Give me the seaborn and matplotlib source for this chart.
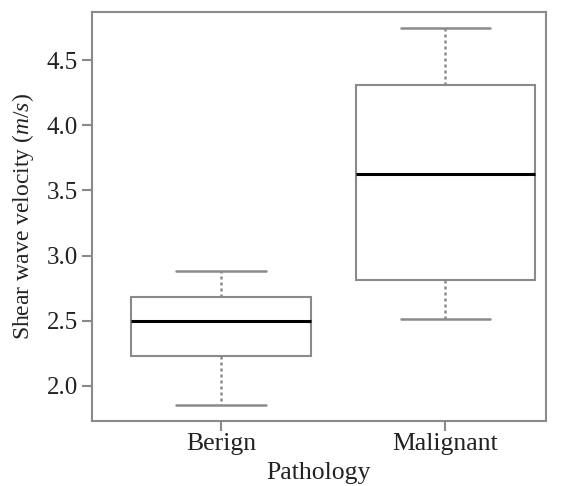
import numpy as np
import pandas as pd
import matplotlib
matplotlib.use("Agg")
import matplotlib.pyplot as plt
import seaborn as sns

categories = ["Berign", "Malignant"]
berign_values = [1.85, 2.23, 2.50, 2.68, 2.88]
malignant_values = [2.51, 2.81, 3.63, 4.31, 4.75]
y_ticks = [2.0, 2.5, 3.0, 3.5, 4.0, 4.5]

df = pd.DataFrame({
    "Pathology": [categories[0]] * len(berign_values) + [categories[1]] * len(malignant_values),
    "SWV": berign_values + malignant_values,
})

sns.set_style("white")
plt.rcParams["font.family"] = ["Liberation Serif", "DejaVu Serif"]
plt.rcParams["mathtext.fontset"] = "custom"
plt.rcParams["mathtext.it"] = "Liberation Serif:italic"
plt.rcParams["mathtext.rm"] = "Liberation Serif"

grey = "#8a8a8a"
fig = plt.figure(figsize=(5.64, 4.86), dpi=100)
ax = fig.add_axes([0.163, 0.134, 0.805, 0.841])

sns.boxplot(data=df, x="Pathology", y="SWV", order=categories, ax=ax,
            whis=(0, 100), width=0.8, color="white", linecolor=grey, linewidth=1.5,
            showfliers=False,
            boxprops=dict(facecolor="white", edgecolor=grey, linewidth=1.5),
            medianprops=dict(color="black", linewidth=2.2),
            whiskerprops=dict(color=grey, linestyle=(0, (1.2, 1.2)), linewidth=1.8),
            capprops=dict(color=grey, linewidth=1.8))

ax.set_xlim(-0.575, 1.448)
ax.set_ylim(1.732, 4.868)
ax.set_yticks(y_ticks)
ax.set_yticklabels([f"{v:.1f}" for v in y_ticks])
for s in ax.spines.values():
    s.set_color(grey)
    s.set_linewidth(1.5)
ax.tick_params(axis="both", which="major", direction="out", length=7, width=1.5,
               color=grey, labelsize=18, labelcolor="#222222", pad=3,
               left=True, bottom=True)
ax.tick_params(axis="x", labelsize=18.5, pad=2)
ax.set_xlabel("Pathology", fontsize=18.5, color="#222222", labelpad=5)
ax.set_ylabel(r"Shear wave velocity ($m/s$)", fontsize=17, color="#222222", labelpad=8)

fig.savefig("out.png", dpi=100)
